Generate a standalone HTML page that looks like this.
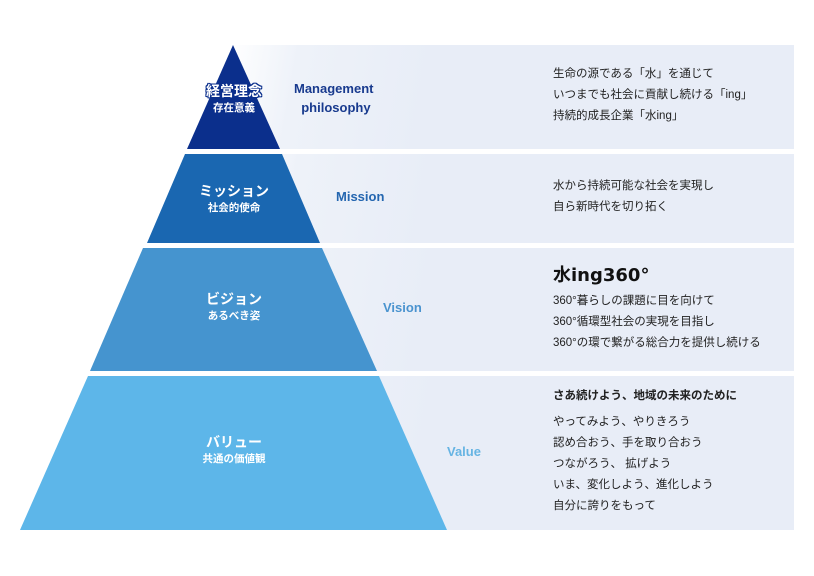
<!DOCTYPE html>
<html><head><meta charset="utf-8"><style>
html,body{margin:0;padding:0;background:#fff;}
body{width:814px;height:576px;position:relative;overflow:hidden;font-family:"Liberation Sans","Noto Sans CJK JP",sans-serif;}
.band{position:absolute;left:230px;width:564px;background:linear-gradient(100deg,#fff 0%,#eef2f9 12%,#e8edf7 35%,#e8edf7 100%);}
.t{position:absolute;color:#222;font-size:11.5px;line-height:21px;white-space:nowrap;}
.en{position:absolute;font-weight:bold;font-size:13px;line-height:19px;}
.pl{position:absolute;color:#fff;font-weight:bold;text-align:center;white-space:nowrap;}
.pl .a{font-size:14px;line-height:18px;}
.pl .b{font-size:10.5px;line-height:16px;}
.top{text-shadow:1px 0 0 #0b2f8c,-1px 0 0 #0b2f8c,0 1px 0 #0b2f8c,0 -1px 0 #0b2f8c,1px 1px 0 #0b2f8c,-1px -1px 0 #0b2f8c,1px -1px 0 #0b2f8c,-1px 1px 0 #0b2f8c;}
</style></head><body>
<div class="band" style="top:45px;height:104px"></div>
<div class="band" style="top:154px;height:89px"></div>
<div class="band" style="top:248px;height:123px"></div>
<div class="band" style="top:376px;height:154px"></div>
<svg width="814" height="576" style="position:absolute;left:0;top:0">
<polygon points="233,45 280,149 187,149" fill="#0b2f8c"/>
<polygon points="185,154 282,154 320,243 147,243" fill="#1a67b1"/>
<polygon points="143,248 322,248 377,371 90,371" fill="#4594cf"/>
<polygon points="88,376 379,376 447,530 20,530" fill="#5db6e9"/>
</svg>
<div class="pl top" style="left:184px;top:82px;width:100px"><div class="a">経営理念</div><div class="b">存在意義</div></div>
<div class="pl" style="left:184px;top:182px;width:100px"><div class="a">ミッション</div><div class="b">社会的使命</div></div>
<div class="pl" style="left:184px;top:290px;width:100px"><div class="a">ビジョン</div><div class="b">あるべき姿</div></div>
<div class="pl" style="left:184px;top:433px;width:100px"><div class="a">バリュー</div><div class="b">共通の価値観</div></div>
<div class="en" style="left:294px;top:79px;color:#183a8e">Management<br>&nbsp;&nbsp;philosophy</div>
<div class="en" style="left:336px;top:187px;color:#2466b0">Mission</div>
<div class="en" style="left:383px;top:298px;color:#4a93cf">Vision</div>
<div class="en" style="left:447px;top:442px;color:#66b4e3">Value</div>
<div class="t" style="left:553px;top:64px">生命の源である「水」を通じて<br>いつまでも社会に貢献し続ける「ing」<br>持続的成長企業「水ing」</div>
<div class="t" style="left:553px;top:176px">水から持続可能な社会を実現し<br>自ら新時代を切り拓く</div>
<div style="position:absolute;left:553px;top:261px;font-size:18px;font-weight:bold;color:#111;font-family:'DejaVu Sans','Noto Sans CJK JP',sans-serif">水ing360°</div>
<div class="t" style="left:553px;top:291px">360°暮らしの課題に目を向けて<br>360°循環型社会の実現を目指し<br>360°の環で繋がる総合力を提供し続ける</div>
<div class="t" style="left:553px;top:386px;font-weight:bold;font-size:11.5px">さあ続けよう、地域の未来のために</div>
<div class="t" style="left:553px;top:412px">やってみよう、やりきろう<br>認め合おう、手を取り合おう<br>つながろう、 拡げよう<br>いま、変化しよう、進化しよう<br>自分に誇りをもって</div>
</body></html>
